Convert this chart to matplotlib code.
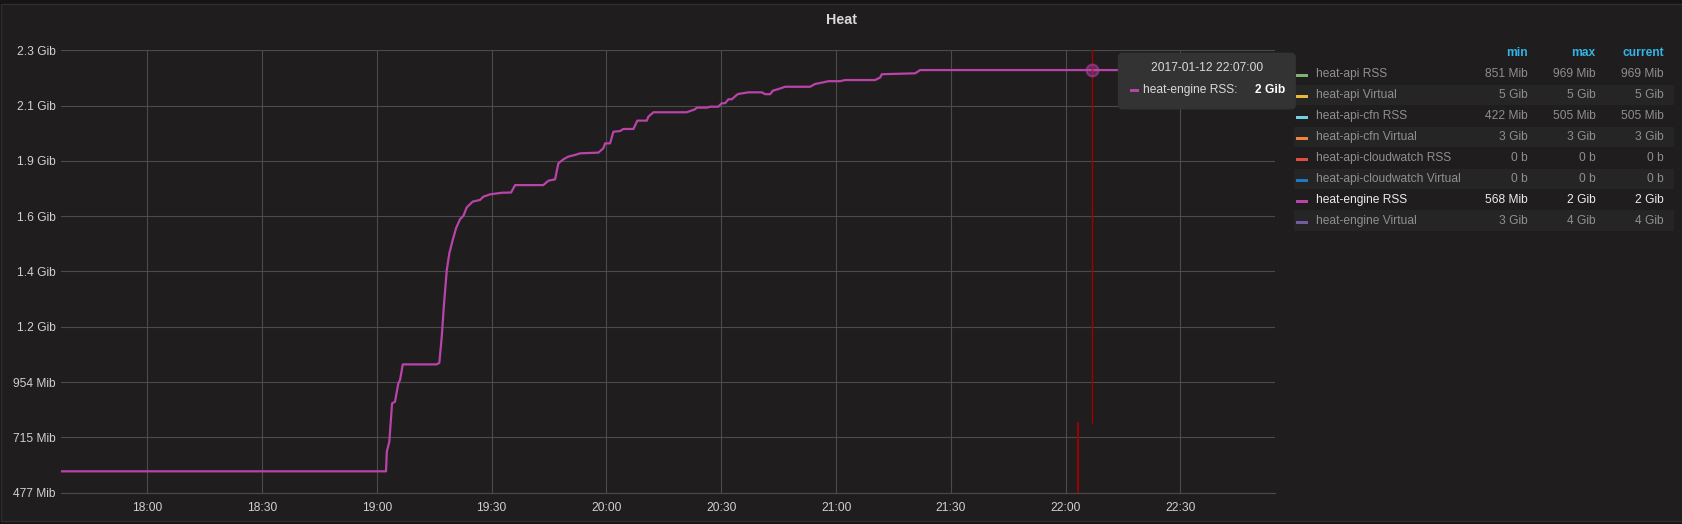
import matplotlib
matplotlib.use("Agg")
import matplotlib.pyplot as plt
import matplotlib.dates as mdates
from matplotlib.patches import Rectangle, FancyBboxPatch
from matplotlib.transforms import IdentityTransform
from datetime import datetime

plt.rcParams['font.family'] = ['Liberation Sans', 'DejaVu Sans']

# ---------------- data ----------------
DAY = "2017-01-12"
times = ["17:37:27", "19:02:23", "19:02:36", "19:03:15", "19:03:58", "19:04:44", "19:05:36",
         "19:06:03", "19:06:46", "19:15:38", "19:16:19", "19:16:57", "19:17:33", "19:18:16",
         "19:18:56", "19:19:49", "19:20:41", "19:21:44", "19:22:36", "19:23:29", "19:25:03",
         "19:26:58", "19:27:49", "19:29:34", "19:32:38", "19:35:04", "19:36:07", "19:43:30",
         "19:44:49", "19:46:34", "19:47:26", "19:48:44", "19:50:02", "19:51:47", "19:53:06",
         "19:57:53", "19:59:11", "19:59:38", "20:00:56", "20:01:48", "20:03:33", "20:04:25",
         "20:07:02", "20:08:04", "20:10:32", "20:10:57", "20:12:16", "20:20:59", "20:23:09",
         "20:23:36", "20:26:13", "20:27:05", "20:29:14", "20:30:08", "20:31:00", "20:31:52",
         "20:32:45", "20:34:03", "20:34:28", "20:37:05", "20:40:35", "20:41:27", "20:42:46",
         "20:43:28", "20:44:56", "20:46:41", "20:53:13", "20:54:31", "20:56:41", "20:58:00",
         "21:01:04", "21:02:22", "21:10:12", "21:11:31", "21:11:57", "21:20:40", "21:21:58",
         "22:54:42"]
heat_engine_rss_mib = [569, 569, 654, 697, 862, 869, 948,
                       963, 1030, 1030, 1037, 1149, 1293, 1437,
                       1509, 1566, 1617, 1656, 1670, 1707, 1732,
                       1739, 1753, 1763, 1770, 1771, 1803, 1803,
                       1822, 1828, 1897, 1914, 1926, 1933, 1940,
                       1943, 1962, 1983, 1983, 2033, 2036, 2045,
                       2045, 2081, 2081, 2098, 2117, 2117, 2130,
                       2137, 2137, 2141, 2141, 2156, 2156, 2173,
                       2173, 2192, 2196, 2203, 2203, 2195, 2195,
                       2210, 2217, 2227, 2227, 2239, 2246, 2251,
                       2251, 2256, 2256, 2267, 2281, 2285, 2299,
                       2299]

x_start, x_end = "17:37:27", "22:54:42"
x_ticks = ["18:00", "18:30", "19:00", "19:30", "20:00", "20:30", "21:00", "21:30", "22:00", "22:30"]
y_ticks_bytes = [500e6, 750e6, 1000e6, 1250e6, 1500e6, 1750e6, 2000e6, 2250e6, 2500e6]
y_tick_labels = ["477 Mib", "715 Mib", "954 Mib", "1.2 Gib", "1.4 Gib", "1.6 Gib", "1.9 Gib", "2.1 Gib", "2.3 Gib"]

legend_names = ["heat-api RSS", "heat-api Virtual", "heat-api-cfn RSS", "heat-api-cfn Virtual",
                "heat-api-cloudwatch RSS", "heat-api-cloudwatch Virtual", "heat-engine RSS",
                "heat-engine Virtual"]
legend_colors = ["#7eb26d", "#eab839", "#6ed0e0", "#ef843c", "#e24d42", "#1f78c1", "#ba43a9", "#705da0"]
legend_min = ["851 Mib", "5 Gib", "422 Mib", "3 Gib", "0 b", "0 b", "568 Mib", "3 Gib"]
legend_max = ["969 Mib", "5 Gib", "505 Mib", "3 Gib", "0 b", "0 b", "2 Gib", "4 Gib"]
legend_cur = ["969 Mib", "5 Gib", "505 Mib", "3 Gib", "0 b", "0 b", "2 Gib", "4 Gib"]
active_series = "heat-engine RSS"

hover_time = "22:07:00"
hover_value_mib = 2299
tooltip_title = "2017-01-12 22:07:00"
tooltip_value = "2 Gib"
annot_time = "22:03:20"

# ---------------- helpers ----------------
W, H = 1683, 524
MIB = 1048576.0


def dt(s):
    if len(s) == 5:
        s = s + ":00"
    return datetime.strptime(DAY + " " + s, "%Y-%m-%d %H:%M:%S")


def fx(px):
    return px / W


def fy(py):
    return 1 - py / H


BG = "#1f1d1e"
TXT = "#d8d9da"
GRID = "#4b4b4b"
FS = 8.64

fig = plt.figure(figsize=(W / 100, H / 100), dpi=100, facecolor="#151515")
panel = Rectangle((fx(1), fy(521)), fx(1681), (520 - 3) / H, transform=fig.transFigure,
                  facecolor=BG, edgecolor="#2e2e2e", linewidth=1, zorder=-1)
fig.patches.append(panel)

ax = fig.add_axes([fx(61), fy(492.7), fx(1275 - 61), (492.7 - 50.3) / H])
ax.set_facecolor(BG)

xs = [dt(t) for t in times]
ax.plot(xs, heat_engine_rss_mib, color="#ba43a9", linewidth=1.6, solid_joinstyle="round", zorder=3)

ax.set_xlim(dt(x_start), dt(x_end))
ax.set_ylim(y_ticks_bytes[0] / MIB, y_ticks_bytes[-1] / MIB)
ax.set_xticks([dt(t) for t in x_ticks])
ax.xaxis.set_major_formatter(mdates.DateFormatter("%H:%M"))
ax.set_yticks([v / MIB for v in y_ticks_bytes])
ax.set_yticklabels(y_tick_labels)
ax.tick_params(axis="both", length=0, labelsize=FS, colors=TXT, labelcolor="#cfd0d1")
ax.tick_params(axis="x", pad=6.5)
ax.tick_params(axis="y", pad=3.8)
ax.grid(True, color=GRID, linewidth=0.8)
ax.set_axisbelow(True)
for s in ax.spines.values():
    s.set_visible(False)
ax.spines["bottom"].set_visible(True)
ax.spines["bottom"].set_color(GRID)
ax.spines["bottom"].set_linewidth(0.8)

# crosshair / annotation lines
split = (492.7 - 423.3) / (492.7 - 50.3)
ax.axvline(dt(hover_time), ymin=split, ymax=1, color="#a10000", linewidth=1.0, zorder=4)
ax.axvline(dt(annot_time), ymin=0, ymax=split, color="#a10000", linewidth=1.4, zorder=4)
ax.plot([dt(hover_time)], [hover_value_mib], marker="o", markersize=8.5,
        markerfacecolor=(0.73, 0.26, 0.66, 0.4), markeredgecolor=(0.73, 0.26, 0.66, 0.55),
        markeredgewidth=1.5, zorder=5)

# title
fig.text(0.5, fy(20.5), "Heat", ha="center", va="center", fontsize=10.3, fontweight="bold", color=TXT)

# tooltip (pixel coordinates, origin bottom-left)
tx0, tx1, ty0, ty1 = 1117.8, 1295.9, 52.6, 109.5
tip = FancyBboxPatch((tx0, H - ty1), tx1 - tx0, ty1 - ty0,
                     boxstyle="round,pad=0,rounding_size=5", transform=IdentityTransform(),
                     facecolor="#333333", edgecolor="none", zorder=6)
fig.patches.append(tip)
fig.text(fx(1206.7), fy(68), tooltip_title, ha="center", va="center", fontsize=FS,
         color=TXT, zorder=7)
fig.patches.append(Rectangle((fx(1130.5), fy(91.8)), fx(8.5), 2.6 / H, transform=fig.transFigure,
                             facecolor="#ba43a9", edgecolor="none", zorder=7))
fig.text(fx(1142.8), fy(90.5), "heat-engine RSS:", ha="left", va="center", fontsize=FS,
         color=TXT, zorder=7)
fig.text(fx(1285.2), fy(90.5), tooltip_value, ha="right", va="center", fontsize=FS,
         fontweight="bold", color="#ffffff", zorder=7)

# legend table
hdr_y = 53
col_x = [1527.6, 1595.6, 1664.0]
for cx, lab in zip(col_x, ["min", "max", "current"]):
    fig.text(fx(cx), fy(hdr_y), lab, ha="right", va="center", fontsize=FS,
             fontweight="bold", color="#33b5e5")

row_h = 20.95
for i, name in enumerate(legend_names):
    ry = 74 + row_h * i
    if i % 2 == 1:
        fig.patches.append(Rectangle((fx(1294.5), fy(ry + 10.2)), fx(1673.7 - 1294.5), 20.4 / H,
                                     transform=fig.transFigure, facecolor="#262526",
                                     edgecolor="none", zorder=1))
    fig.patches.append(Rectangle((fx(1296), fy(ry + 3.0)), fx(12), 3 / H,
                                 transform=fig.transFigure, facecolor=legend_colors[i],
                                 edgecolor="none", zorder=2))
    col = "#ececec" if name == active_series else "#8f8f8f"
    fig.text(fx(1315.6), fy(ry), name, ha="left", va="center", fontsize=FS, color=col)
    for cx, val in zip(col_x, [legend_min[i], legend_max[i], legend_cur[i]]):
        fig.text(fx(cx), fy(ry), val, ha="right", va="center", fontsize=FS, color=col)

fig.savefig("out.png", dpi=100, facecolor=fig.get_facecolor())
